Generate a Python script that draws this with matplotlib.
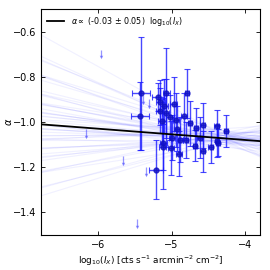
import matplotlib
matplotlib.use('Agg')
import matplotlib.pyplot as plt
import numpy as np

# detections
x_pts = [-5.41, -5.43, -5.18, -5.07, -4.97, -4.79, -4.83, -5.02, -4.94, -5.13,
         -4.75, -4.58, -4.39, -4.26, -4.67, -5.15, -5.12, -5.01, -4.99, -4.90,
         -4.88, -4.81, -4.68, -4.62, -4.58, -4.47, -4.38, -4.37, -5.21, -5.11,
         -5.16, -5.08, -5.10, -4.92]
y_pts = [-0.873, -0.975, -0.890, -0.873, -0.920, -0.874, -0.972, -0.980, -0.990, -0.997,
         -1.006, -1.015, -1.018, -1.040, -1.027, -0.914, -1.111, -1.114, -1.070, -1.140,
         -1.079, -1.079, -1.105, -1.070, -1.130, -1.110, -1.084, -1.093, -1.212, -1.095,
         -0.950, -0.960, -0.930, -1.030]
x_err = [0.12, 0.12, 0.08, 0.05, 0.05, 0.03, 0.04, 0.05, 0.04, 0.06,
         0.03, 0.03, 0.03, 0.03, 0.03, 0.06, 0.05, 0.04, 0.04, 0.04,
         0.03, 0.03, 0.03, 0.03, 0.03, 0.03, 0.03, 0.03, 0.10, 0.05,
         0.05, 0.05, 0.05, 0.04]
y_err = [0.25, 0.15, 0.06, 0.20, 0.12, 0.11, 0.10, 0.10, 0.12, 0.10,
         0.10, 0.10, 0.07, 0.07, 0.09, 0.10, 0.10, 0.12, 0.10, 0.10,
         0.10, 0.08, 0.07, 0.09, 0.09, 0.07, 0.07, 0.06, 0.13, 0.20,
         0.10, 0.15, 0.12, 0.10]

# upper limits (top of arrow)
x_lim = [-5.95, -5.66, -5.35, -5.47, -6.16, -5.39, -5.30]
y_lim = [-0.68, -1.15, -1.20, -1.43, -1.03, -0.88, -0.90]
lim_len = 0.035

# best fit and bootstrap lines (slope, value at pivot x=-4.3)
fit_slope = -0.025
fit_icpt = -1.18
pivot = -4.3
boot_slopes = [-0.18, -0.15, -0.13, -0.12, -0.11, -0.10, -0.09, -0.08, -0.08, -0.07,
               -0.06, -0.06, -0.05, -0.05, -0.04, -0.04, -0.03, -0.03, -0.03, -0.02,
               -0.02, -0.02, -0.01, -0.01, 0.00, 0.00, 0.01, 0.01, 0.02, 0.02,
               0.03, 0.04, 0.05, 0.06, 0.07, 0.08, 0.10, -0.035, -0.045, 0.015,
               -0.14, -0.095, -0.065, -0.055, -0.025, -0.015, 0.005, 0.025, 0.045, 0.09]
boot_mid = [-1.06, -1.08, -1.05, -1.09, -1.07, -1.04, -1.10, -1.06, -1.08, -1.05,
            -1.07, -1.09, -1.04, -1.08, -1.06, -1.11, -1.07, -1.05, -1.09, -1.06,
            -1.08, -1.04, -1.07, -1.10, -1.06, -1.08, -1.05, -1.09, -1.07, -1.03,
            -1.08, -1.06, -1.10, -1.07, -1.05, -1.09, -1.08, -1.06, -1.07, -1.08,
            -1.07, -1.05, -1.08, -1.06, -1.09, -1.07, -1.05, -1.08, -1.06, -1.07]

xlim = (-6.77, -3.8)

fig = plt.figure(figsize=(2.7, 2.7), dpi=100)
ax = fig.add_axes([0.152, 0.13, 0.811, 0.837])

xx = np.array(xlim)
for s, m in zip(boot_slopes, boot_mid):
    ax.plot(xx, m + s * (xx - pivot), color='#3030ff', alpha=0.07, lw=0.8, zorder=1)

ax.errorbar(x_pts, y_pts, xerr=x_err, yerr=y_err, fmt='o', ms=3.5,
            color='#1010c0', ecolor='#1a1aff', elinewidth=1.0, capsize=2,
            capthick=0.8, alpha=0.8, zorder=3)

# upper limits: short line with downward arrowhead
y_lim_bot = [v - lim_len for v in y_lim]
ax.vlines(x_lim, y_lim_bot, y_lim, color='#5050ff', lw=0.9, alpha=0.6, zorder=2)
ax.plot(x_lim, y_lim_bot, 'v', color='#5050ff', ms=2.5, mew=0, alpha=0.6, zorder=2)

ax.plot(xx, fit_icpt + fit_slope * xx, color='black', lw=1.3, zorder=4,
        label=r'$\alpha \propto$ (-0.03 $\pm$ 0.05)  log$_{10}$($I_X$)')

ax.set_xlim(xlim)
ax.set_ylim(-1.5, -0.5)
ax.set_xticks([-6, -5, -4])
ax.set_yticks([-1.4, -1.2, -1.0, -0.8, -0.6])
ax.tick_params(direction='in', top=True, right=True, labelsize=7, length=3, width=0.6)
for sp in ax.spines.values():
    sp.set_linewidth(0.8)
ax.set_xlabel(r'log$_{10}$($I_X$) [cts s$^{-1}$ arcmin$^{-2}$ cm$^{-2}$]', fontsize=6.4, labelpad=3)
ax.set_ylabel(r'$\alpha$', fontsize=7)
ax.yaxis.set_label_coords(-0.125, 0.5)
ax.legend(loc='upper left', fontsize=5.8, frameon=False, handlelength=2.2,
          borderaxespad=0.3)

fig.savefig('out.png', dpi=100)
